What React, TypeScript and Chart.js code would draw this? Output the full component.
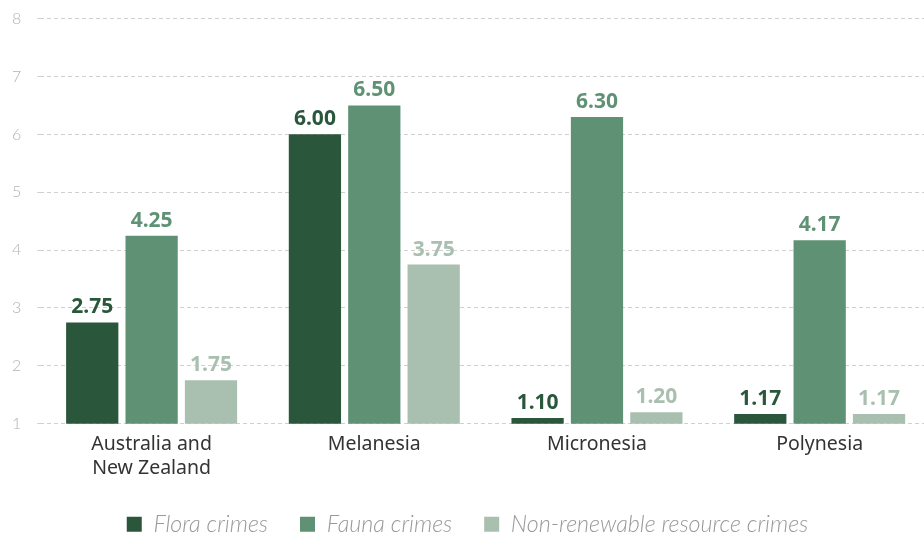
import React, { useEffect, useRef } from "react";
import { Chart, registerables } from "chart.js";

Chart.register(...registerables);

const categories: (string | string[])[] = [["Australia and", "New Zealand"], "Melanesia", "Micronesia", "Polynesia"];
const floraCrimes = [2.75, 6.0, 1.1, 1.17];
const faunaCrimes = [4.25, 6.5, 6.3, 4.17];
const nonRenewableCrimes = [1.75, 3.75, 1.2, 1.17];
const seriesNames = ["Flora crimes", "Fauna crimes", "Non-renewable resource crimes"];
const yTicks = [1, 2, 3, 4, 5, 6, 7, 8];

const colors = ["#2a573b", "#5f9275", "#a9bfaf"];

const valueLabels = {
  id: "valueLabels",
  afterDatasetsDraw(chart: any) {
    const ctx = chart.ctx;
    ctx.save();
    ctx.font = "bold 21px 'Noto Sans', 'Open Sans', sans-serif";
    ctx.textAlign = "center";
    ctx.textBaseline = "alphabetic";
    chart.data.datasets.forEach((ds: any, i: number) => {
      const meta = chart.getDatasetMeta(i);
      ctx.fillStyle = colors[i];
      meta.data.forEach((bar: any, j: number) => {
        ctx.fillText(Number(ds.data[j]).toFixed(2), bar.x, bar.y - 9);
      });
    });
    ctx.restore();
  },
};

const legendShift = {
  id: "legendShift",
  afterLayout(chart: any) {
    if (chart.legend) {
      chart.legend.top -= 9;
      chart.legend.bottom -= 9;
      chart.legend.left += 4;
      chart.legend.right += 4;
    }
  },
};

export default function App() {
  const ref = useRef<HTMLCanvasElement>(null);
  useEffect(() => {
    if (!ref.current) return;
    const chart = new Chart(ref.current, {
      type: "bar",
      data: {
        labels: categories as any,
        datasets: [floraCrimes, faunaCrimes, nonRenewableCrimes].map((d, i) => ({
          label: seriesNames[i],
          data: d,
          backgroundColor: colors[i],
          borderWidth: 0,
          categoryPercentage: 0.8,
          barPercentage: 0.88,
        })),
      },
      options: {
        animation: false,
        responsive: false,
        maintainAspectRatio: false,
        layout: { padding: { top: 1, left: 2, right: 0, bottom: 0 } },
        plugins: {
          tooltip: { enabled: false },
          legend: {
            position: "bottom",
            labels: {
              boxWidth: 15,
              boxHeight: 15,
              padding: 32,
              color: "#999",
              font: { family: "Lato", size: 23.3, style: "italic", weight: "300" as any },
            },
          },
        },
        scales: {
          x: {
            grid: { display: false, drawTicks: false },
            border: { display: false },
            ticks: {
              color: "#333",
              padding: 9,
              font: { family: "'Noto Sans', 'Open Sans', sans-serif", size: 19.5, lineHeight: 1.23 },
            },
          },
          y: {
            min: yTicks[0],
            max: yTicks[yTicks.length - 1],
            afterBuildTicks: (axis: any) => {
              axis.ticks = yTicks.map((v) => ({ value: v }));
            },
            grid: { color: "#d0d0d0", tickLength: 3, lineWidth: 1 },
            border: { display: false, dash: [4, 3] },
            ticks: {
              color: "#b3b3b3",
              padding: 16,
              font: { family: "Lato", size: 16, weight: "300" as any },
            },
          },
        },
      },
      plugins: [valueLabels, legendShift],
    });
    return () => chart.destroy();
  }, []);
  return (
    <div style={{ position: "fixed", left: 0, top: 0, width: 924, height: 535, overflow: "hidden" }}>
      <canvas ref={ref} width={937} height={562} style={{ display: "block", marginLeft: -6, marginTop: -7 }} />
    </div>
  );
}
